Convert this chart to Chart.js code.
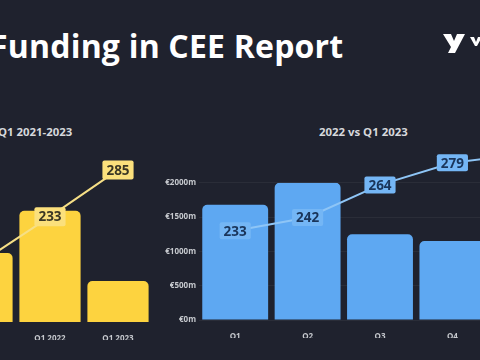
<!DOCTYPE html>
<html>
<head>
<meta charset="utf-8">
<script src="https://cdn.jsdelivr.net/npm/chart.js@4.4.0/dist/chart.umd.min.js"></script>
<style>
  html, body { margin: 0; padding: 0; width: 480px; height: 360px; overflow: hidden; background: #1f222e; font-family: "Open Sans", sans-serif; }
  #title { position: absolute; left: -10px; top: 24px; color: #fff; font-weight: 700; font-size: 32px; white-space: nowrap; letter-spacing: 0.2px; }
  .sub { position: absolute; top: 124px; color: #d6d8dc; font-weight: 700; font-size: 11.4px; white-space: nowrap; }
  canvas { position: absolute; }
  #logo { position: absolute; left: 440px; top: 30px; }
</style>
</head>
<body>
<div id="title">Funding in CEE Report</div>
<svg id="logo" width="40" height="28" viewBox="0 0 40 28">
  <path d="M3 4 H11 L14 11 L17 4 H25 L15 23 H8 L11 17 Z" fill="#fff"/>
  <path d="M30 7 H34 L36 12 L38 7 H42 L37 16 H35 Z" fill="#fff"/>
</svg>
<div class="sub" style="left:-2px">Q1 2021-2023</div>
<div class="sub" style="left:319px">2022 vs Q1 2023</div>
<canvas id="yearChart" width="204" height="220" style="left:-52px;top:120px"></canvas>
<canvas id="quarterChart" width="402" height="218" style="left:159px;top:120px"></canvas>
<script>
// Q1 year-on-year
const yearCats = ['Q1 2021', 'Q1 2022', 'Q1 2023'];
const yearFunding = [1040, 1680, 620];
const yearDeals = [183, 233, 285];

// 2022 quarters + Q1 2023
const quarterCats = ['Q1', 'Q2', 'Q3', 'Q4', 'Q1 2023'];
const quarterFunding = [1680, 2000, 1250, 1150, 620];
const quarterDeals = [233, 242, 264, 279, 285];
const fundingTicks = [0, 500, 1000, 1500, 2000];

// boxed number labels on the line points
const boxLabels = {
    id: 'boxLabels',
    afterDatasetsDraw(chart, args, opts) {
        const ctx = chart.ctx;
        chart.data.datasets.forEach((ds, i) => {
            if (ds.type !== 'line') return;
            chart.getDatasetMeta(i).data.forEach((pt, j) => {
                const txt = String(ds.data[j]);
                ctx.save();
                ctx.font = 'bold 13.5px "Open Sans"';
                const w = ctx.measureText(txt).width + 8;
                const h = opts.h;
                ctx.fillStyle = opts.bg;
                ctx.beginPath();
                ctx.roundRect(pt.x - w / 2, pt.y - h / 2, w, h, 2);
                ctx.fill();
                ctx.fillStyle = opts.color;
                ctx.textAlign = 'center';
                ctx.textBaseline = 'middle';
                ctx.fillText(txt, pt.x, pt.y + 1);
                ctx.restore();
            });
        });
    }
};

const tickFont = { family: 'Open Sans', size: 8, weight: 'bold' };

new Chart(document.getElementById('yearChart'), {
    type: 'bar',
    data: {
        labels: yearCats,
        datasets: [{
            type: 'line',
            data: yearDeals,
            yAxisID: 'y1',
            borderColor: '#f6df86',
            borderWidth: 2,
            pointRadius: 0,
            clip: false,
            order: 0
        }, {
            type: 'bar',
            data: yearFunding,
            backgroundColor: '#fdd33f',
            borderRadius: 5,
            borderSkipped: 'start',
            barPercentage: 0.9,
            categoryPercentage: 1,
            order: 1
        }]
    },
    options: {
        responsive: false,
        animation: false,
        layout: { padding: 0 },
        scales: {
            x: {
                grid: { display: false },
                border: { display: false },
                ticks: { color: '#c6c9ce', font: tickFont, padding: 4 },
                afterFit: (s) => { s.height = 18; }
            },
            y: { display: false, min: 0, max: 3050 },
            y1: { display: false, min: 115.7, max: 340.6 }
        },
        plugins: {
            legend: { display: false },
            tooltip: { enabled: false },
            boxLabels: { bg: '#fbe07c', color: '#3b3724', h: 19 }
        }
    },
    plugins: [boxLabels]
});

new Chart(document.getElementById('quarterChart'), {
    type: 'bar',
    data: {
        labels: quarterCats,
        datasets: [{
            type: 'line',
            data: quarterDeals,
            yAxisID: 'y1',
            borderColor: '#8ec5f6',
            borderWidth: 2,
            pointRadius: 0,
            clip: false,
            order: 0
        }, {
            type: 'bar',
            data: quarterFunding,
            backgroundColor: '#5ea8f2',
            borderRadius: 5,
            borderSkipped: 'start',
            barPercentage: 0.91,
            categoryPercentage: 1,
            order: 1
        }]
    },
    options: {
        responsive: false,
        animation: false,
        layout: { padding: { top: 62.7 } },
        scales: {
            x: {
                grid: { display: false },
                border: { display: false },
                ticks: { color: '#c6c9ce', font: tickFont, padding: 4 },
                afterFit: (s) => { s.height = 18; }
            },
            y: {
                min: 0,
                max: 2000,
                grid: { color: 'rgba(255,255,255,0.05)', drawTicks: false },
                border: { display: false },
                afterBuildTicks: (s) => { s.ticks = fundingTicks.map(v => ({ value: v })); },
                ticks: {
                    color: '#c6c9ce',
                    font: tickFont,
                    padding: 3,
                    callback: (v) => '€' + v + 'm'
                },
                afterFit: (s) => { s.width = 40; }
            },
            y1: { display: false, min: 172.6, max: 265.5 }
        },
        plugins: {
            legend: { display: false },
            tooltip: { enabled: false },
            boxLabels: { bg: '#74b6f5', color: '#1a355a', h: 17 }
        }
    },
    plugins: [boxLabels]
});
</script>
</body>
</html>
